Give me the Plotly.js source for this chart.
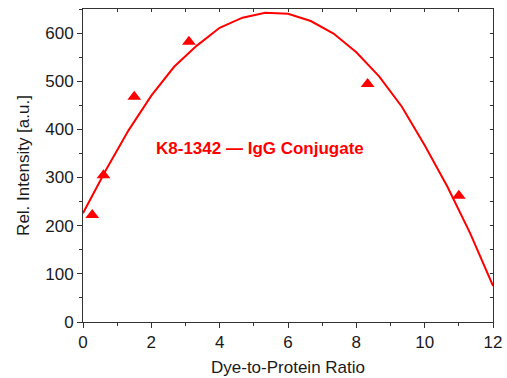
<!DOCTYPE html>
<html>
<head>
<meta charset="utf-8">
<script src="https://cdn.plot.ly/plotly-3.0.1.min.js"></script>
<style>html,body{margin:0;padding:0;background:#fff;}#chart{width:507px;height:378px;}</style>
</head>
<body>
<div id="chart"></div>
<script>
// Measured data points (triangles)
var ratioMeasured = [0.27, 0.6, 1.5, 3.1, 8.33, 11.0];
var intensityMeasured = [222, 305, 468, 582, 494, 262];

// Fitted curve
var ratioFit = [0, 0.667, 1.333, 2, 2.667, 3.333, 4, 4.667, 5.333, 6, 6.667, 7.333, 8, 8.667, 9.333, 10, 10.667, 11.333, 12];
var intensityFit = [226, 315, 398, 470, 530, 574, 611, 632, 642, 640, 625, 599, 560, 510, 447, 367, 281, 184, 75];

var labelText = "K8-1342 \u2014 IgG Conjugate";
var xTitle = "Dye-to-Protein Ratio";
var yTitle = "Rel. Intensity [a.u.]";

var RED = "#ff0000";
var AX = "#333333";
var FONT = "Liberation Sans, Arial, sans-serif";
var TXT = "#1a1a1a";

var traces = [
  {x: ratioFit, y: intensityFit, mode: "lines", type: "scatter",
   line: {color: RED, width: 2}, hoverinfo: "skip", showlegend: false},
  {x: ratioMeasured, y: intensityMeasured, mode: "markers", type: "scatter",
   marker: {symbol: "triangle-up", size: 12, color: RED}, showlegend: false},
  {x: [], y: [], xaxis: "x2", yaxis: "y2", showlegend: false, type: "scatter"}
];

var layout = {
  width: 507, height: 378,
  margin: {l: 83, r: 14, t: 9, b: 56},
  paper_bgcolor: "#fff", plot_bgcolor: "#fff",
  font: {family: FONT, size: 17, color: TXT},
  showlegend: false,
  xaxis: {
    range: [0, 12], dtick: 2, tick0: 0,
    ticks: "outside", ticklen: 5, tickwidth: 1, tickcolor: AX,
    minor: {dtick: 1, ticks: "outside", ticklen: 3, tickcolor: AX},
    showline: true, linecolor: AX, linewidth: 1,
    showgrid: false, zeroline: false,
    tickfont: {family: FONT, size: 17, color: TXT},
    title: {text: xTitle, font: {family: FONT, size: 17, color: TXT}, standoff: 9}
  },
  yaxis: {
    range: [0, 650], dtick: 100, tick0: 0,
    ticks: "outside", ticklen: 5, tickwidth: 1, tickcolor: AX,
    minor: {dtick: 50, ticks: "outside", ticklen: 3, tickcolor: AX},
    showline: true, linecolor: AX, linewidth: 1,
    showgrid: false, zeroline: false,
    tickfont: {family: FONT, size: 17, color: TXT},
    title: {text: yTitle, font: {family: FONT, size: 17, color: TXT}, standoff: 11}
  },
  xaxis2: {
    overlaying: "x", side: "top", anchor: "y2",
    range: [0, 12], dtick: 1, tick0: 0,
    ticks: "inside", ticklen: 3, tickcolor: AX,
    showticklabels: false, showline: true, linecolor: AX, linewidth: 1,
    showgrid: false, zeroline: false
  },
  yaxis2: {
    overlaying: "y", side: "right", anchor: "x2",
    range: [0, 650], dtick: 50, tick0: 0,
    ticks: "inside", ticklen: 3, tickcolor: AX,
    showticklabels: false, showline: true, linecolor: AX, linewidth: 1,
    showgrid: false, zeroline: false
  },
  annotations: [{
    xref: "paper", yref: "paper", x: 0.432, y: 0.553,
    xanchor: "center", yanchor: "middle", showarrow: false,
    text: "<b>" + labelText + "</b>",
    font: {family: FONT, size: 17, color: RED}
  }]
};

Plotly.newPlot("chart", traces, layout, {displayModeBar: false, staticPlot: true});
</script>
</body>
</html>
